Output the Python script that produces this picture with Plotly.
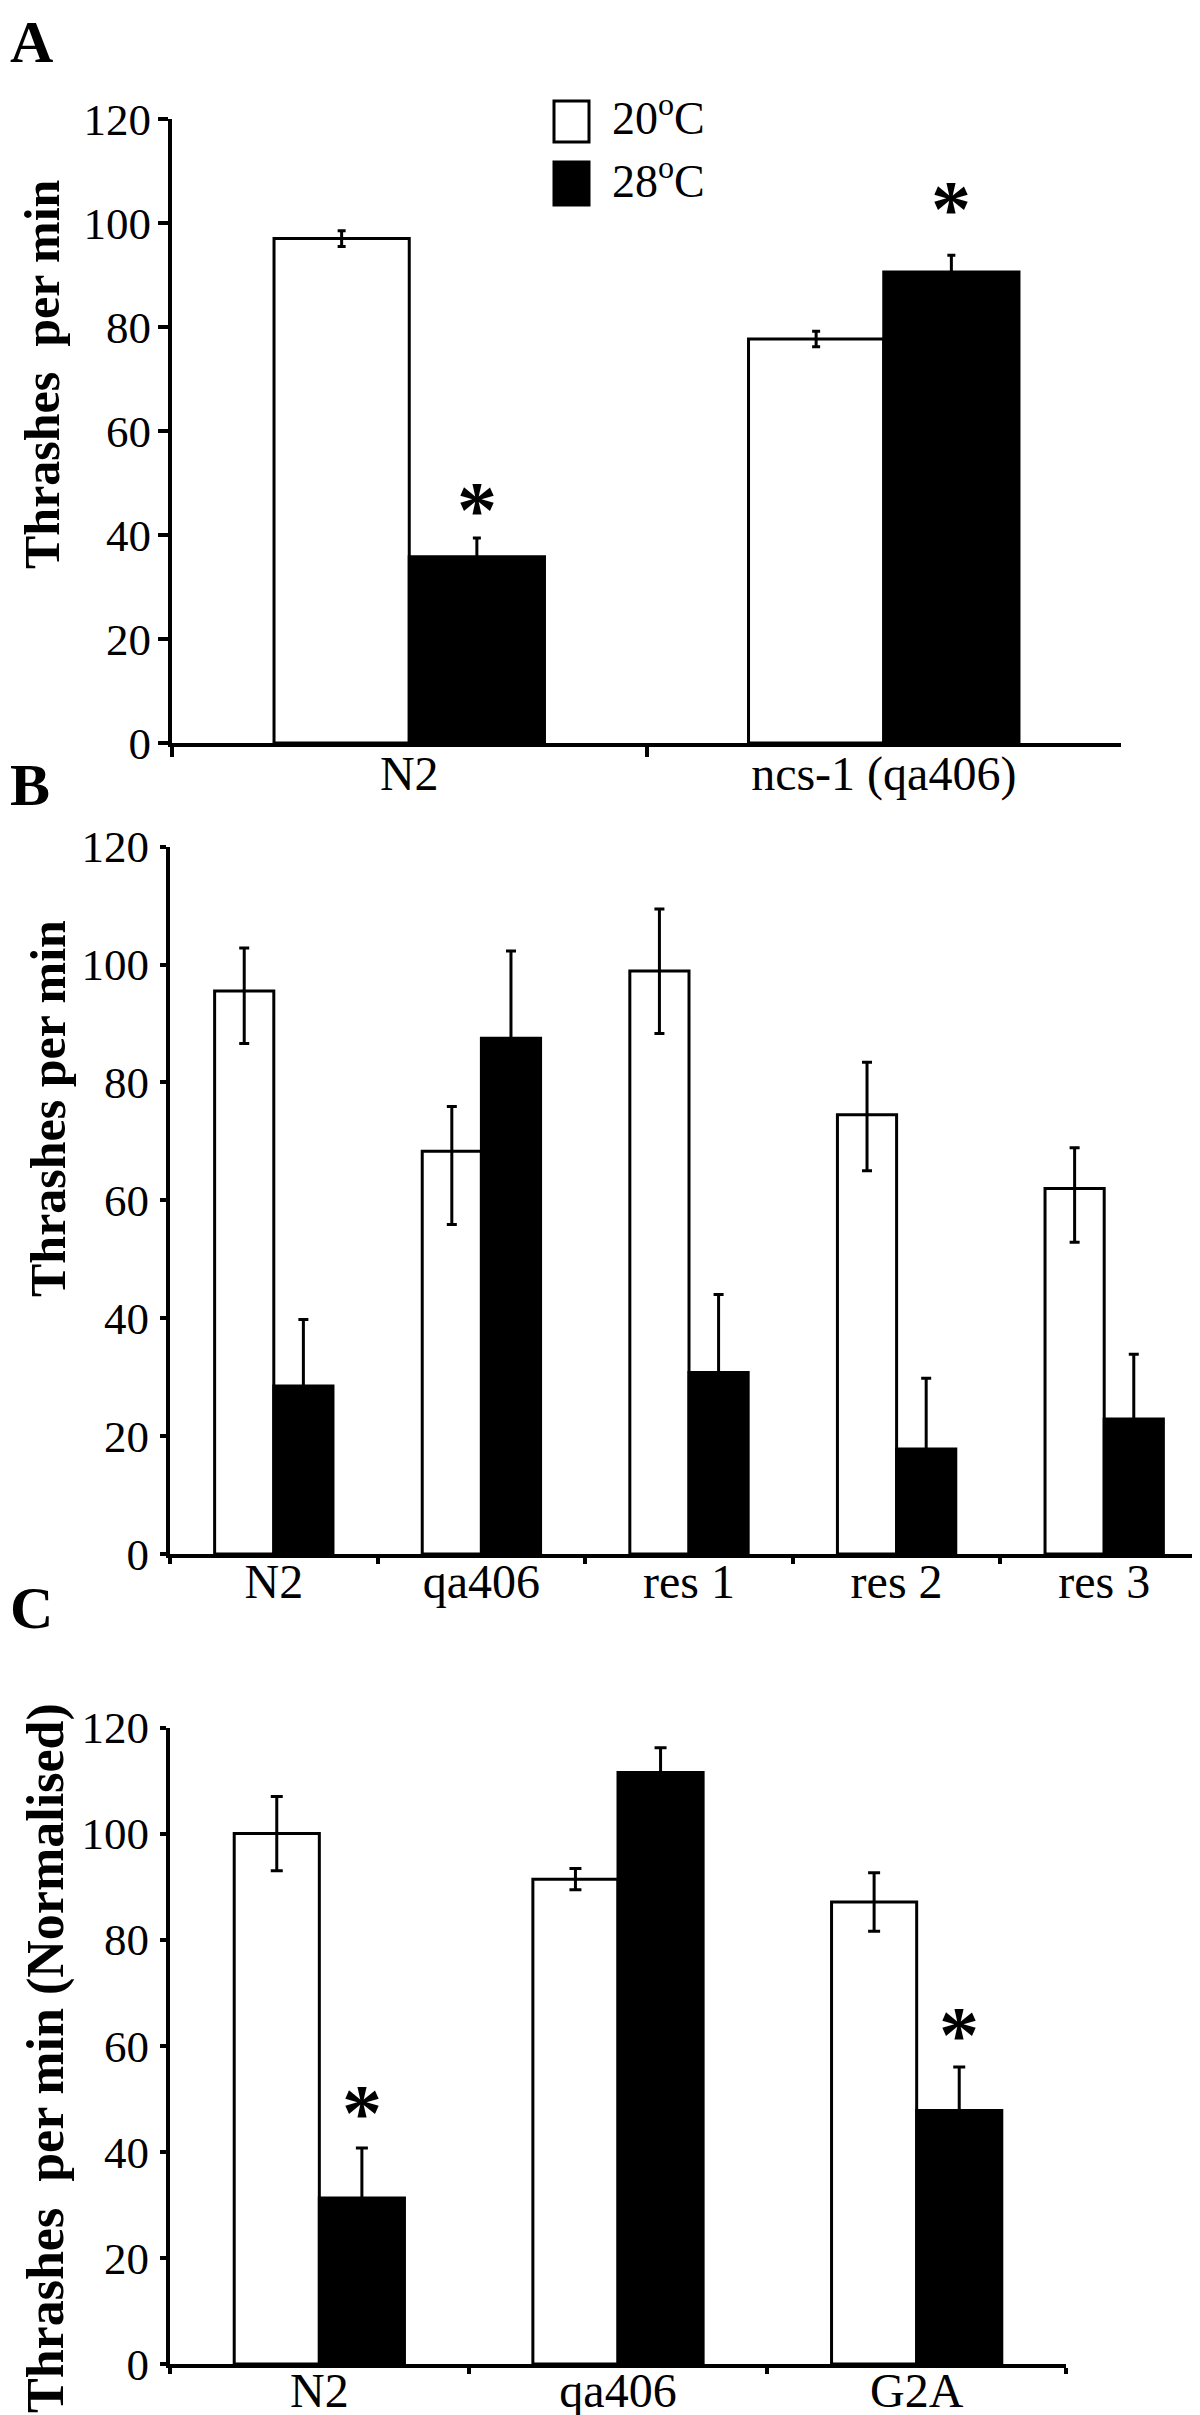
import plotly.graph_objects as go

# ---------------- data ----------------
# Panel A
a_cats = ["N2", "ncs-1 (qa406)"]
a_20 = [97.0, 77.7]
a_20_err = [1.5, 1.5]
a_28 = [35.8, 90.6]
a_28_err = [3.6, 3.2]
a_star = [44.8, 102.6]          # asterisk heights (28°C bars)

# Panel B
b_cats = ["N2", "qa406", "res 1", "res 2", "res 3"]
b_20 = [95.5, 68.3, 98.9, 74.5, 62.0]
b_20_err_up = [7.3, 7.6, 10.5, 8.9, 6.9]
b_20_err_dn = [8.9, 12.4, 10.6, 9.5, 9.1]
b_28 = [28.5, 87.5, 30.8, 17.8, 22.9]
b_28_err = [11.3, 14.8, 13.2, 12.0, 11.0]

# Panel C
c_cats = ["N2", "qa406", "G2A"]
c_20 = [100.0, 91.4, 87.1]
c_20_err = [7.0, 2.0, 5.5]
c_28 = [31.3, 111.5, 47.8]
c_28_err = [9.4, 4.7, 8.2]
c_star = [47.4, None, 62.0]

y_ticks = [0, 20, 40, 60, 80, 100, 120]
legend_labels = ["20<sup>o</sup>C", "28<sup>o</sup>C"]

# ---------------- layout helpers ----------------
W, H = 1200, 2415
FONT = "Liberation Serif, Times New Roman, serif"
BARGAP = 0.43


def px_x(x):
    return x / W


def px_y(y):
    return (H - y) / H


fig = go.Figure()


def add_pair(cats, v20, v28, e20p, e20m, e28, xa, ya, cap):
    fig.add_trace(go.Bar(
        x=cats, y=v20, name="20°C", xaxis=xa, yaxis=ya, showlegend=False,
        marker=dict(color="white", line=dict(color="black", width=3)),
        error_y=dict(type="data", array=e20p, arrayminus=e20m, symmetric=False,
                     color="black", thickness=3, width=cap),
    ))
    fig.add_trace(go.Bar(
        x=cats, y=v28, name="28°C", xaxis=xa, yaxis=ya, showlegend=False,
        marker=dict(color="black", line=dict(color="black", width=3)),
        error_y=dict(type="data", array=e28, color="black", thickness=3, width=cap),
    ))


add_pair(a_cats, a_20, a_28, a_20_err, a_20_err, a_28_err, "x", "y", 4)
add_pair(b_cats, b_20, b_28, b_20_err_up, b_20_err_dn, b_28_err, "x2", "y2", 5)
add_pair(c_cats, c_20, c_28, c_20_err, c_20_err, c_28_err, "x3", "y3", 6)

panels = {
    # name: (x_left, x_right, y_top, y_bottom) in pixels
    "": (164, 1113, 111, 735),
    "2": (162, 1200, 838.6, 1546),
    "3": (162, 1058, 1719.5, 2356),
}
ticklens = {"": 10, "2": 6, "3": 6}
x_standoff = {"": -15, "2": -18, "3": -19}

layout = dict(
    template="none",
    width=W, height=H,
    margin=dict(l=0, r=0, t=0, b=0, pad=0),
    paper_bgcolor="white", plot_bgcolor="white",
    barmode="group", bargap=BARGAP, bargroupgap=0,
    font=dict(family=FONT, color="black"),
    showlegend=False,
)
for k, (xl, xr, yt, yb) in panels.items():
    layout["xaxis" + k] = dict(
        domain=[px_x(xl), min(px_x(xr), 1.0)],
        anchor="y" + k, type="category", automargin=False,
        showline=True, linecolor="black", linewidth=4,
        ticks="outside", tickson="boundaries", ticklen=ticklens[k], tickwidth=4,
        tickcolor="black", showgrid=False, zeroline=False,
        tickfont=dict(family=FONT, size=48, color="black"),
        ticklabelstandoff=x_standoff[k],
        fixedrange=True,
    )
    layout["yaxis" + k] = dict(
        domain=[px_y(yb), px_y(yt)],
        anchor="x" + k, range=[0, 120], tickvals=y_ticks, automargin=False,
        showline=True, linecolor="black", linewidth=4,
        ticks="outside", ticklen=ticklens[k], tickwidth=4, tickcolor="black",
        showgrid=False, zeroline=False,
        tickfont=dict(family=FONT, size=45, color="black"),
        ticklabelstandoff=-2 + (10 - ticklens[k]),
        fixedrange=True,
    )

fig.update_layout(**layout)

annotations = []
# panel letters
for letter, yc in [("A", 34), ("B", 777), ("C", 1600)]:
    annotations.append(dict(
        text="<b>%s</b>" % letter, xref="paper", yref="paper",
        x=0, y=px_y(yc), xanchor="left", yanchor="middle", showarrow=False,
        font=dict(family=FONT, size=60, color="black")))

# y axis titles
for txt, xc, yc, size in [
    ("<b>Thrashes\u00a0 per min</b>", 34, 366, 50),
    ("<b>Thrashes per min</b>", 40, 1101, 50),
    ("<b>Thrashes\u00a0 per min (Normalised)</b>", 38, 2050, 52),
]:
    annotations.append(dict(
        text=txt, xref="paper", yref="paper", x=px_x(xc), y=px_y(yc),
        xanchor="center", yanchor="middle", textangle=-90, showarrow=False,
        font=dict(family=FONT, size=size, color="black")))

# asterisks over 28°C bars
offset = (1 - BARGAP) / 4
for cats, stars, xr, yr in [(a_cats, a_star, "x", "y"), (c_cats, c_star, "x3", "y3")]:
    for i, s in enumerate(stars):
        if s is None:
            continue
        annotations.append(dict(
            text="<b>*</b>", xref=xr, yref=yr, x=i + offset, y=s,
            xanchor="center", yanchor="middle", yshift=0, showarrow=False,
            font=dict(family=FONT, size=80, color="black")))

# legend
shapes = []
legend_rows = [(93, 134, "white"), (154, 197, "black")]
for (yt, yb, col), lab in zip(legend_rows, legend_labels):
    shapes.append(dict(
        type="rect", xref="paper", yref="paper",
        x0=px_x(546), x1=px_x(581), y0=px_y(yb), y1=px_y(yt),
        fillcolor=col, line=dict(color="black", width=3)))
    annotations.append(dict(
        text=lab, xref="paper", yref="paper", x=px_x(602), y=px_y((yt + yb) / 2 - 6),
        xanchor="left", yanchor="middle", showarrow=False,
        font=dict(family=FONT, size=46, color="black")))

fig.update_layout(annotations=annotations, shapes=shapes)

fig.write_html("out.html")
